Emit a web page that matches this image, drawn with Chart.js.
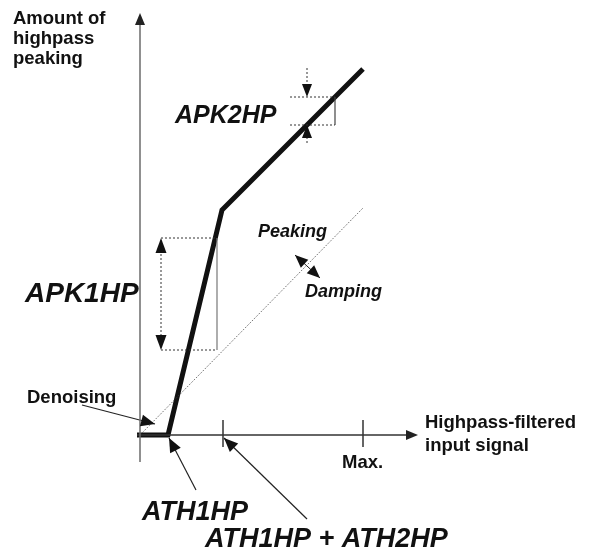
<!DOCTYPE html>
<html>
<head>
<meta charset="utf-8">
<script src="https://cdn.jsdelivr.net/npm/chart.js@4/dist/chart.umd.min.js"></script>
<style>
  html, body { margin: 0; padding: 0; background: #fff; }
  #wrap { width: 592px; height: 550px; }
</style>
</head>
<body>
<div id="wrap"><canvas id="chart"></canvas></div>
<script>
// Diagram units: origin where the two axes cross, y grows upward
const curveX = [-3, 28, 82, 223];
const curveY = [0, 0, 225, 366];

const neutralX = [0, 223];
const neutralY = [0, 227];

const tickX = [83, 223];
const tickLabels = ['', 'Max.'];
const tickSpan = [15, -12];

// APK1HP bracket: left, right, bottom, top
const apk1X = [21, 77];
const apk1Y = [85, 197];
// APK2HP bracket: left, right, bottom, top, arrow column
const apk2X = [150, 195];
const apk2Y = [310, 338];
const apk2ArrowX = 167;
const apk2ArrowEnds = [292, 367];

// annotation arrows: [tailX, tailY, tipX, tipY]
const pointerArrows = [
  [-58, 30, 15, 11],     // Denoising
  [56, -55, 29, -3],     // ATH1HP
  [167, -84, 84, -3],    // ATH1HP + ATH2HP
];
const dampArrow = [155, 180, 180, 157];

const yAxisEnds = [-27, 422];
const xAxisEnds = [-3, 278];

const labelText = ['Amount of', 'highpass', 'peaking', 'APK2HP', 'APK1HP', 'Peaking', 'Damping',
  'Denoising', 'Highpass-filtered', 'input signal', 'ATH1HP', 'ATH1HP + ATH2HP'];
const labelX = [-127, -127, -127, 35, -115, 118, 165, -113, 285, 285, 2, 65];
const labelY = [411, 391, 371, 312, 133, 198, 138, 32, 7, -16, -85, -112];
const labelStyle = ['b', 'b', 'b', 'bi25', 'bi28', 'bi18', 'bi18', 'b', 'b', 'b', 'bi27', 'bi27'];

const seg = (x1, y1, x2, y2) => [{ x: x1, y: y1 }, { x: x2, y: y2 }];
const line = (data, color, width, dash) => ({
  data, showLine: true, borderColor: color, borderWidth: width,
  borderDash: dash || [], pointRadius: 0, fill: false, tension: 0,
});

const DOT = [2, 2];
const datasets = [
  line(seg(0, yAxisEnds[0], 0, yAxisEnds[1] - 8), '#6b6b6b', 1.5),
  line(seg(xAxisEnds[0], 0, xAxisEnds[1] - 8, 0), '#333', 1.5),
  ...tickX.map(t => line(seg(t, tickSpan[0], t, tickSpan[1]), '#333', 1.5)),
  line(neutralX.map((x, i) => ({ x, y: neutralY[i] })), '#444', 1, [1, 1.5]),
  // APK1HP bracket
  line(seg(apk1X[0], apk1Y[1], apk1X[1], apk1Y[1]), '#333', 1, DOT),
  line(seg(apk1X[0], apk1Y[0], apk1X[1], apk1Y[0]), '#333', 1, DOT),
  line(seg(apk1X[1], apk1Y[0], apk1X[1], apk1Y[1]), '#777', 1.2),
  line(seg(apk1X[0], apk1Y[0] + 10, apk1X[0], apk1Y[1] - 10), '#333', 1, DOT),
  // APK2HP bracket
  line(seg(apk2X[0], apk2Y[1], apk2X[1], apk2Y[1]), '#333', 1, DOT),
  line(seg(apk2X[0], apk2Y[0], apk2X[1], apk2Y[0]), '#333', 1, DOT),
  line(seg(apk2X[1], apk2Y[0], apk2X[1], apk2Y[1]), '#444', 1.2),
  line(seg(apk2ArrowX, apk2ArrowEnds[1], apk2ArrowX, apk2Y[1] + 8), '#333', 1, DOT),
  line(seg(apk2ArrowX, apk2ArrowEnds[0], apk2ArrowX, apk2Y[0] - 8), '#333', 1, DOT),
  // pointers
  ...pointerArrows.map(a => line(seg(a[0], a[1], a[2], a[3]), '#222', 1.2)),
  line(seg(dampArrow[0], dampArrow[1], dampArrow[2], dampArrow[3]), '#222', 1),
  // peaking curve
  line(curveX.map((x, i) => ({ x, y: curveY[i] })), '#111', 5),
];

const extras = {
  id: 'extras',
  afterDatasetsDraw(chart) {
    const { ctx, scales: { x: xs, y: ys } } = chart;
    const px = v => xs.getPixelForValue(v);
    const py = v => ys.getPixelForValue(v);

    function head(fromX, fromY, tipX, tipY, len, half, color) {
      const tx = px(tipX), ty = py(tipY);
      const a = Math.atan2(ty - py(fromY), tx - px(fromX));
      const c = Math.cos(a), s = Math.sin(a);
      ctx.beginPath();
      ctx.moveTo(tx, ty);
      ctx.lineTo(tx - len * c + half * s, ty - len * s - half * c);
      ctx.lineTo(tx - len * c - half * s, ty - len * s + half * c);
      ctx.closePath();
      ctx.fillStyle = color || '#111';
      ctx.fill();
    }

    ctx.save();
    head(0, 0, 0, yAxisEnds[1], 12, 5, '#222');
    head(0, 0, xAxisEnds[1], 0, 12, 5, '#222');
    head(apk1X[0], apk1Y[0], apk1X[0], apk1Y[1], 15, 5.5);
    head(apk1X[0], apk1Y[1], apk1X[0], apk1Y[0], 15, 5.5);
    head(apk2ArrowX, apk2ArrowEnds[1], apk2ArrowX, apk2Y[1], 13, 5);
    head(apk2ArrowX, apk2ArrowEnds[0], apk2ArrowX, apk2Y[0], 13, 5);
    pointerArrows.forEach(a => head(a[0], a[1], a[2], a[3], 14, 6));
    head(dampArrow[2], dampArrow[3], dampArrow[0], dampArrow[1], 13, 5.5);
    head(dampArrow[0], dampArrow[1], dampArrow[2], dampArrow[3], 13, 5.5);

    ctx.fillStyle = '#111';
    ctx.textBaseline = 'alphabetic';
    ctx.textAlign = 'left';
    labelText.forEach((t, i) => {
      const st = labelStyle[i];
      ctx.font = st === 'b'
        ? 'bold 18.5px "Liberation Sans", Arial, sans-serif'
        : 'italic bold ' + st.slice(2) + 'px "Liberation Sans", Arial, sans-serif';
      ctx.fillText(t, px(labelX[i]), py(labelY[i]));
    });
    ctx.font = 'bold 18.5px "Liberation Sans", Arial, sans-serif';
    tickX.forEach((t, i) => {
      if (tickLabels[i]) ctx.fillText(tickLabels[i], px(t) - 21, py(-33));
    });
    ctx.restore();
  },
};

new Chart(document.getElementById('chart'), {
  type: 'scatter',
  data: { datasets },
  options: {
    responsive: true,
    maintainAspectRatio: false,
    animation: false,
    layout: { padding: 0 },
    plugins: { legend: { display: false }, tooltip: { enabled: false } },
    scales: {
      x: { type: 'linear', min: -140, max: 452, display: false },
      y: { type: 'linear', min: -115, max: 435, display: false },
    },
  },
  plugins: [extras],
});
</script>
</body>
</html>
